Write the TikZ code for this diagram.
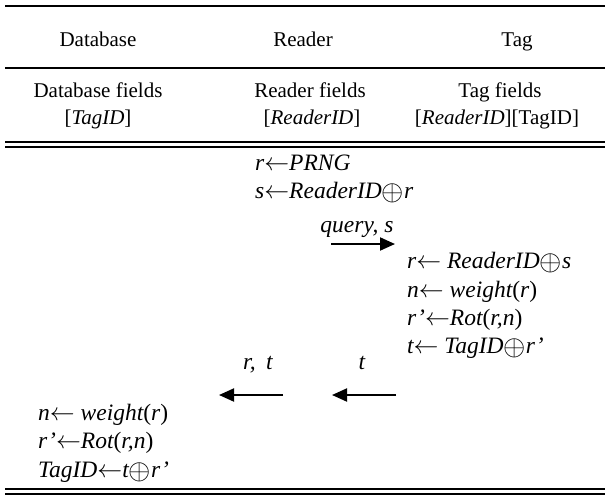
\documentclass[tikz,border=0pt]{standalone}
\usepackage{fontspec}
\setmainfont{Liberation Serif}
\usetikzlibrary{arrows.meta}
\newcommand{\getsto}{$\leftarrow$}
\newcommand{\xorop}{\raisebox{-0.1em}{\scalebox{1.15}{\upshape$\oplus$}}}

\begin{document}
\begin{tikzpicture}[x=1pt,y=-1pt,
	every node/.style={inner sep=0pt,font=\fontsize{21}{25}\selectfont},
	lft/.style={anchor=base west,font=\fontsize{23.5}{28}\selectfont\itshape},
	ctr/.style={anchor=base},
	lbl/.style={anchor=base,font=\fontsize{23.5}{28}\selectfont\itshape},
	msg/.style={line width=2pt,-{Triangle[length=15pt,width=13pt]}}]
	\useasboundingbox (0,0) rectangle (605,499);
	%\draw[help lines] (0,0) grid[step=50] (605,499);
	% rules of the table
	\draw[line width=1.4pt] (5,6)--(605,6);
	\draw[line width=2.8pt] (5,68)--(605,68);
	\draw[line width=2pt] (5,141.5)--(605,141.5);
	\draw[line width=2pt] (5,146.8)--(605,146.8);
	\draw[line width=2pt] (5,489)--(605,489);
	\draw[line width=2pt] (5,494.3)--(605,494.3);
	% header
	\node[ctr] (db) at (98,46) {Database};
	\node[ctr] (rd) at (303,46) {Reader};
	\node[ctr] (tg) at (517,46) {Tag};
	\node[ctr] (dbf) at (98,97) {Database fields};
	\node[ctr] (rdf) at (310,97) {Reader fields};
	\node[ctr] (tgf) at (500,97) {Tag fields};
	\node[ctr] (dbk) at (98,124) {[\textit{TagID}]};
	\node[ctr] (rdk) at (312,124) {[\textit{ReaderID}]};
	\node[ctr] (tgk) at (497,124) {[\textit{ReaderID}][TagID]};
	% reader
	\node[lft] (r1) at (255,170) {r\getsto PRNG};
	\node[lft] (r2) at (255,198) {s\getsto ReaderID\xorop r};
	\node[lbl] (qry) at (357,232) {query, s};
	\coordinate (q1) at (331,244);
	\coordinate (q2) at (395,244);
	\draw[msg] (q1)--(q2);
	% tag
	\node[lft] (t1) at (407,268) {r\getsto\ ReaderID\xorop s};
	\node[lft] (t2) at (407,297) {n\getsto\ weight\upshape(\itshape r\upshape)};
	\node[lft] (t3) at (407,325) {r’\getsto Rot\upshape(\itshape r,n\upshape)};
	\node[lft] (t4) at (407,353) {t\getsto\ TagID\xorop r’};
	\node[lbl] (lrt) at (258,369) {r,\hspace{0.45em}t};
	\node[lbl] (lt) at (362,369) {t};
	\coordinate (a1) at (283,395);
	\coordinate (a2) at (219,395);
	\coordinate (b1) at (396,395);
	\coordinate (b2) at (332,395);
	\draw[msg] (a1)--(a2);
	\draw[msg] (b1)--(b2);
	% database
	\node[lft] (d1) at (38,420) {n\getsto\ weight\upshape(\itshape r\upshape)};
	\node[lft] (d2) at (38,448) {r’\getsto Rot\upshape(\itshape r,n\upshape)};
	\node[lft] (d3) at (38,477) {TagID\getsto t\xorop r’};
\end{tikzpicture}
\end{document}
